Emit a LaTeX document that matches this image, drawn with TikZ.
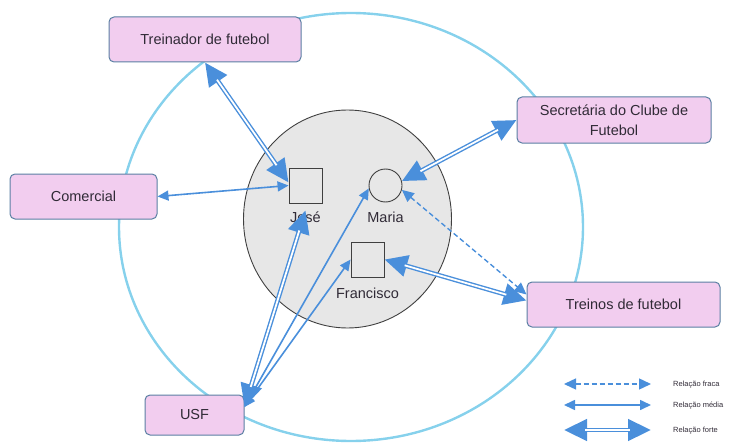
\documentclass[tikz,border=0pt]{standalone}
\usepackage{fontspec}
\setmainfont{Liberation Sans}
\usetikzlibrary{arrows.meta,shapes.geometric}

\definecolor{rosa}{HTML}{F2CDEF}
\definecolor{borda}{HTML}{5A7FA3}
\definecolor{azul}{HTML}{4A8FDB}
\definecolor{ceu}{HTML}{86D1EC}
\definecolor{cinzaclaro}{HTML}{E7E7E7}
\definecolor{cinzaesc}{HTML}{404040}
\definecolor{texto}{HTML}{302A36}

\tikzset{
  caixa/.style={draw=borda, fill=rosa, rounded corners=5pt, line width=1pt,
    text=texto, font=\fontsize{14.5}{20}\selectfont, align=center, inner sep=2pt},
  pessoa/.style={draw=cinzaesc, line width=0.9pt, inner sep=0pt},
  nome/.style={text=texto, font=\fontsize{14.5}{17}\selectfont, inner sep=1pt},
  legenda/.style={text=texto, font=\fontsize{7.5}{9}\selectfont, anchor=west, inner sep=0pt},
  fraca/.style={draw=azul, line width=1.4pt, dash pattern=on 5pt off 3pt,
    {Triangle[length=12pt,width=11pt]}-{Triangle[length=12pt,width=11pt]}},
  media/.style={draw=azul, line width=1.6pt,
    {Triangle[length=11pt,width=10pt]}-{Triangle[length=11pt,width=10pt]}},
  forte/.style={draw=azul, line width=4.6pt,
    {Triangle[length=23pt,width=21pt]}-{Triangle[length=23pt,width=21pt]},
    postaction={draw=white, line width=1.8pt, arrows=-, shorten <=21pt, shorten >=21pt}},
}

\begin{document}
\begin{tikzpicture}[x=1pt, y=-1pt]
  \useasboundingbox (0,0) rectangle (737,444);

  %circulos
  \node[ellipse, draw=ceu, line width=2.4pt, minimum width=464pt, minimum height=428pt] (fora) at (351,227) {};
  \node[ellipse, draw=cinzaesc, fill=cinzaclaro, line width=0.9pt, minimum width=208pt, minimum height=218pt] (nucleo) at (347.5,219) {};

  %familia
  \node[pessoa, minimum width=33pt, minimum height=35pt] (jose) at (305.5,185.5) {};
  \node[pessoa, circle, minimum size=33pt] (maria) at (385.5,185.5) {};
  \node[pessoa, minimum width=33pt, minimum height=35pt] (francisco) at (367.5,259.5) {};
  \node[nome] (joseT) at (305.5,217) {José};
  \node[nome] (mariaT) at (385.5,217) {Maria};
  \node[nome] (franT) at (367.5,293) {Francisco};

  %caixas
  \node[caixa, minimum width=192pt, minimum height=45pt] (trein) at (205,39.5) {Treinador de futebol};
  \node[caixa, minimum width=147pt, minimum height=45pt] (comercial) at (83.5,196.5) {Comercial};
  \node[caixa, minimum width=194pt, minimum height=46pt] (secret) at (614,120) {Secretária do Clube de\\Futebol};
  \node[caixa, minimum width=193pt, minimum height=45pt] (treinos) at (623.5,304.5) {Treinos de futebol};
  \node[caixa, minimum width=99pt, minimum height=40pt] (usf) at (194.5,415) {USF};

  %relacoes
  \draw[forte] (trein.south) -- ([yshift=3pt]jose.west);
  \draw[media] (comercial.east) -- (jose.west);
  \draw[forte] (secret.west) -- (maria.15);
  \draw[fraca] (maria.-15) -- ([yshift=10pt]treinos.west);
  \draw[forte] (francisco.east) -- ([yshift=4pt]treinos.west);
  \draw[forte] ([yshift=8pt]usf.east) -- (joseT.north);
  \draw[media] ([yshift=8pt]usf.east) -- (maria.190);
  \draw[media] ([yshift=8pt]usf.east) -- (francisco.west);

  %legenda
  \coordinate (f1) at (564,384);
  \coordinate (f2) at (651,384);
  \coordinate (m1) at (564,405);
  \coordinate (m2) at (651,405);
  \coordinate (s1) at (564,430);
  \coordinate (s2) at (651,430);
  \draw[fraca] (f1) -- (f2);
  \draw[media] (m1) -- (m2);
  \draw[forte] (s1) -- (s2);
  \node[legenda] (lf) at (673,385) {Relação fraca};
  \node[legenda] (lm) at (673,406) {Relação média};
  \node[legenda] (ls) at (673,431) {Relação forte};
\end{tikzpicture}
\end{document}
